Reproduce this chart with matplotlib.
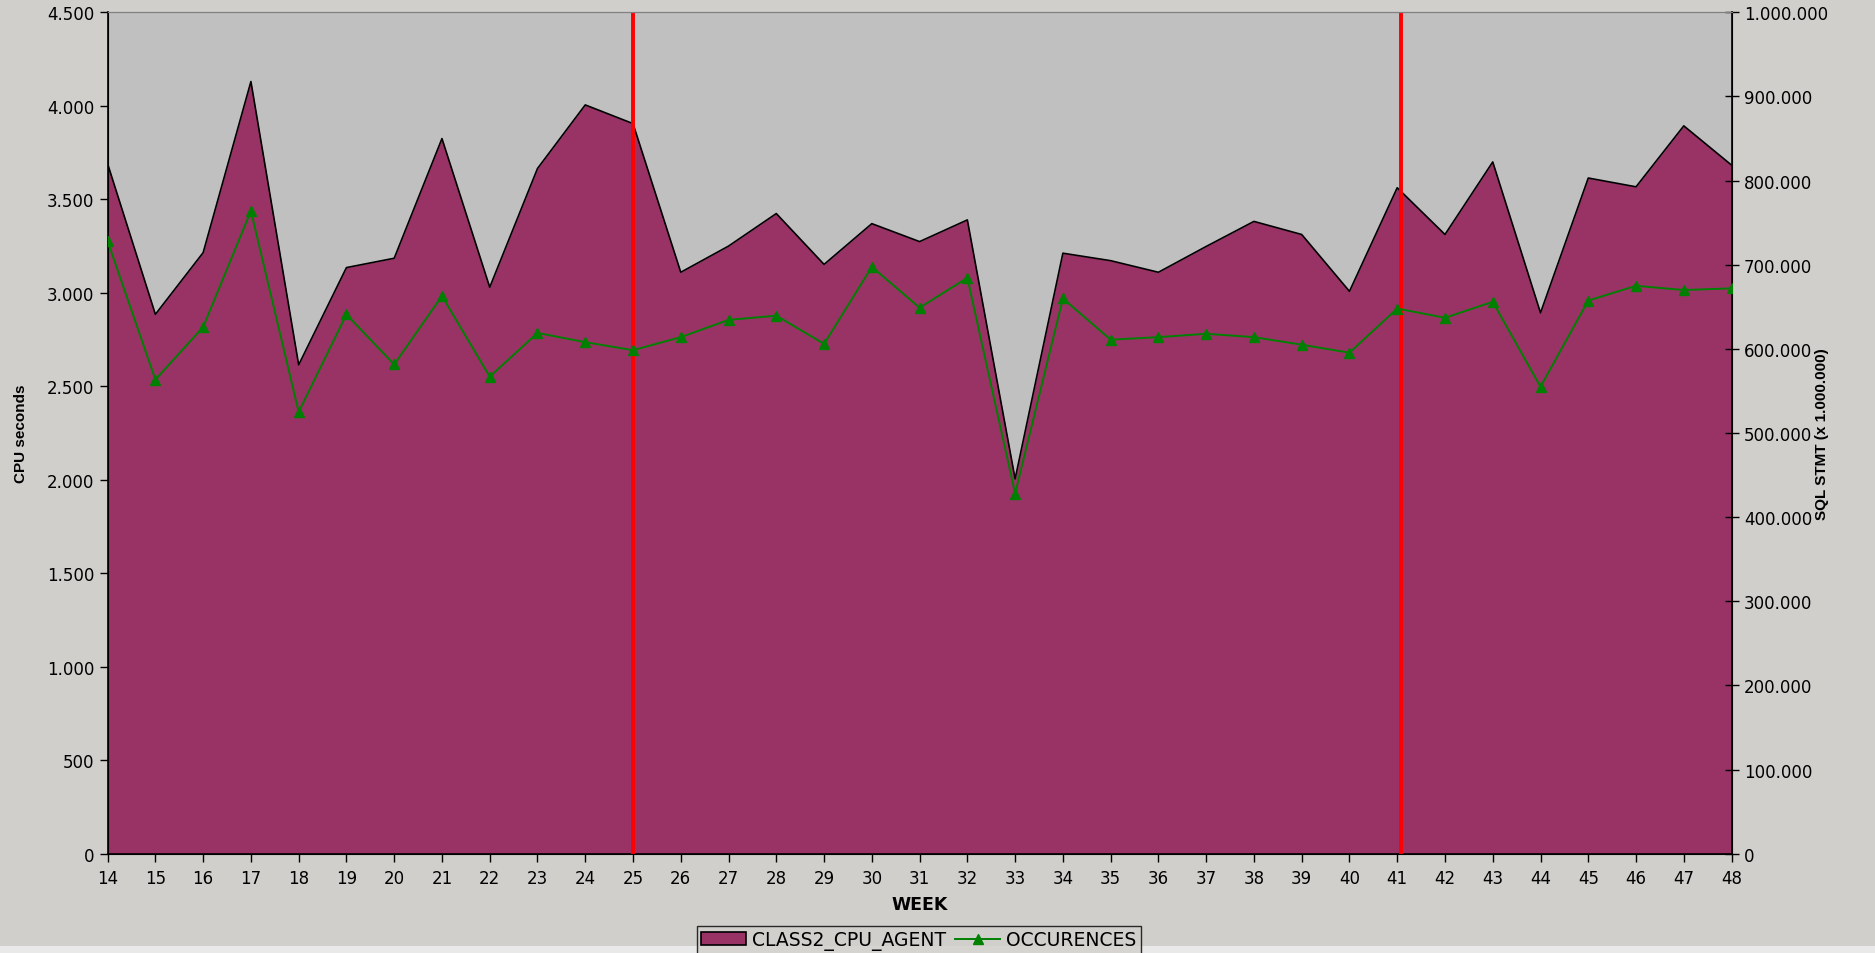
import matplotlib.pyplot as plt
from matplotlib.ticker import FuncFormatter, MultipleLocator
from matplotlib.patches import Patch, Rectangle
from matplotlib.lines import Line2D

plt.rcParams['font.family'] = ['DejaVu Sans']

# weekly figures
weeks = list(range(14, 49))
cpu_seconds = [3690, 2885, 3215, 4130, 2615, 3135, 3185, 3825, 3030, 3665,
               4005, 3905, 3110, 3250, 3424, 3152, 3370, 3274, 3390, 2005,
               3212, 3172, 3110, 3248, 3382, 3312, 3008, 3562, 3312, 3700,
               2893, 3614, 3567, 3893, 3683]
occurences = [728000, 563500, 626000, 764000, 525000, 641000, 581500, 663000,
              567000, 619000, 608000, 598500, 614000, 634500, 639500, 606000,
              697500, 649000, 684500, 428000, 660000, 611000, 614000, 618000,
              614000, 605000, 595500, 648000, 637000, 656000, 555000, 657500,
              675000, 670000, 672000]
marker_weeks = [25, 41.07]

fig_bg = '#D0CFCC'
plum = '#993366'
label_font = ['Liberation Sans', 'DejaVu Sans']


def dotted_thousands(v, pos):
    return f"{int(round(v)):,}".replace(",", ".")


fig = plt.figure(figsize=(18.75, 9.54), dpi=100, facecolor=fig_bg)
# lighter strip along the very bottom edge
fig.patches.append(Rectangle((0, 0), 1, 0.007, transform=fig.transFigure,
                             facecolor='#E9E9E9', edgecolor='none', zorder=0))

ax = fig.add_axes([0.0574, 0.104, 0.8661, 0.882])
ax.set_facecolor('#C0C0C0')

# CPU area
ax.fill_between(weeks, cpu_seconds, 0, color=plum, linewidth=0, zorder=2)
ax.plot(weeks, cpu_seconds, color='black', linewidth=1.2, zorder=3)

for w in marker_weeks:
    ax.axvline(w, color='#FF0000', linewidth=2.8, zorder=4)

ax.set_xlim(14, 48)
ax.set_ylim(0, 4500)
ax.set_xticks(weeks)
ax.yaxis.set_major_locator(MultipleLocator(500))
ax.yaxis.set_major_formatter(FuncFormatter(dotted_thousands))
ax.tick_params(axis='both', labelsize=12, direction='out', length=6,
               width=1, colors='black')
ax.tick_params(axis='x', pad=5)
ax.set_xlabel('WEEK', fontsize=12.5, fontweight='bold', labelpad=6)
ax.set_ylabel('CPU seconds', fontsize=11, fontweight='bold',
              family=label_font)
ax.yaxis.set_label_coords(-0.049, 0.5)

for side in ['left', 'bottom']:
    ax.spines[side].set_color('black')
    ax.spines[side].set_linewidth(1.2)
ax.spines['top'].set_color('#808080')
ax.spines['right'].set_color('black')

# statement count on the second axis
ax2 = ax.twinx()
ax2.plot(weeks, occurences, color='#008000', linewidth=1.4, marker='^',
         markersize=7, markerfacecolor='#008000', markeredgecolor='#008000',
         zorder=5)
ax2.set_ylim(0, 1000000)
ax2.yaxis.set_major_locator(MultipleLocator(100000))
ax2.yaxis.set_major_formatter(FuncFormatter(dotted_thousands))
ax2.tick_params(axis='y', labelsize=12, direction='inout', length=10,
                width=1, colors='black', pad=4)
ax2.set_ylabel('SQL STMT (x 1.000.000)', fontsize=11, fontweight='bold',
               rotation=90, family=label_font)
ax2.yaxis.set_label_coords(1.0515, 0.5)
ax2.spines['right'].set_color('black')
ax2.spines['right'].set_linewidth(1.2)
ax2.spines['top'].set_color('#808080')

handles = [Patch(facecolor=plum, edgecolor='black', linewidth=1.2),
           Line2D([0], [0], color='#008000', marker='^', markersize=7,
                  linewidth=1.4)]
leg = fig.legend(handles, ['CLASS2_CPU_AGENT', 'OCCURENCES'],
                 loc='upper center', bbox_to_anchor=(0.49, 0.0285), ncol=2,
                 fontsize=13.5, frameon=True, fancybox=False,
                 facecolor=fig_bg, edgecolor='black', handlelength=2.4,
                 handletextpad=0.3, columnspacing=0.5, borderpad=0.25,
                 borderaxespad=0)
leg.get_frame().set_linewidth(1.0)
leg.set_zorder(5)

fig.savefig('out.png', dpi=100, facecolor=fig_bg)
